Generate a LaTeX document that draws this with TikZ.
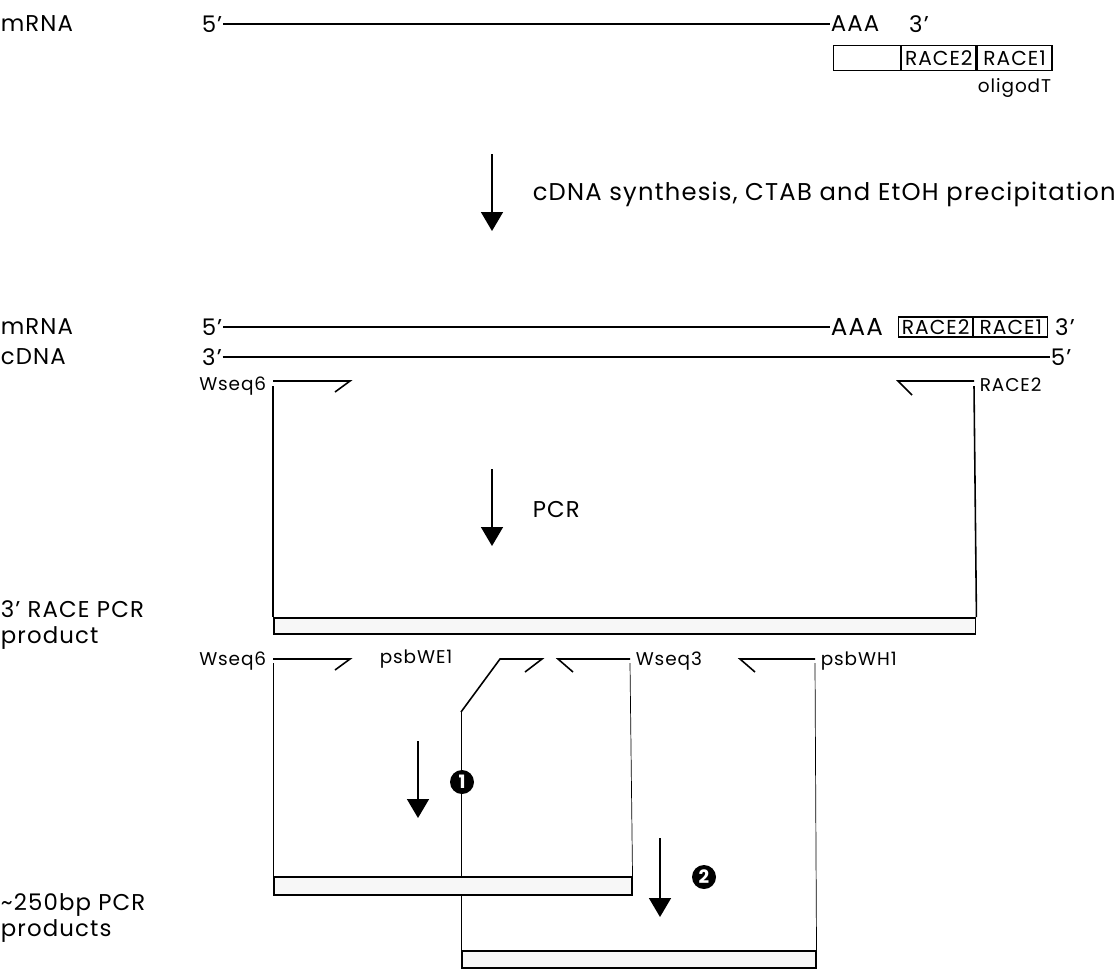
\documentclass[tikz,border=0pt]{standalone}
\usepackage{fontspec}
\setmainfont{Poppins}[LetterSpace=5]
\usetikzlibrary{arrows.meta, positioning, backgrounds}
\tikzset{
  every picture/.style={font=\fontsize{13}{15}\selectfont, line width=0.9pt},
  lbl/.style={anchor=west, inner sep=0pt, align=left},
  small/.style={font=\fontsize{10.5}{12}\selectfont, inner sep=0pt},
  tag/.style={draw, line width=0.7pt, inner sep=0pt, minimum height=#1, font=\fontsize{11.5}{12}\selectfont},
  prod/.style={draw, fill=gray!6, anchor=north west, inner sep=0pt},
  down/.style={-{Triangle[width=0.44cm,length=0.38cm]}, line width=0.9pt},
  num/.style={circle, fill=black, text=white, inner sep=0pt, minimum size=0.48cm, font=\bfseries\fontsize{10.5}{10.5}\selectfont},
}
\begin{document}
\begin{tikzpicture}[x=0.02cm, y=-0.02cm]
  \useasboundingbox (0,0) rectangle (1119,968);
  \node[lbl] (mrnaA) at (0,24) {mRNA};
  \node[inner sep=0pt] (fiveA) at (212,24) {5'};
  \node[anchor=west, inner sep=0pt] (aaaA) at (830,24) {AAA};
  \node[inner sep=0pt] (threeA) at (919,24) {3'};
  \draw (fiveA.east) -- (aaaA.west);
  \node[tag=0.5cm, minimum width=1.34cm, anchor=north west] (blank) at (833,45) {};
  \node[tag=0.5cm, minimum width=1.48cm, right=0pt of blank] (raceTwoA) {RACE2};
  \node[tag=0.5cm, minimum width=1.5cm, right=0pt of raceTwoA] (raceOneA) {RACE1};
  \node[small, below=0.12cm of raceOneA] (oligo) {oligodT};
  \coordinate (synS) at (492,154);
  \coordinate (synE) at (492,231);
  \draw[down] (synS) -- (synE);
  \node[lbl, font=\fontsize{13.8}{15}\selectfont] (synlab) at (532,194) {cDNA synthesis, CTAB and EtOH precipitation};
  \node[lbl] (mrnaB) at (0,327) {mRNA};
  \node[lbl] (cdna) at (0,357) {cDNA};
  \node[inner sep=0pt] (fiveB) at (212,327) {5'};
  \node[anchor=west, inner sep=0pt, font=\fontsize{14}{15}\selectfont] (aaaB) at (830,327) {AAA};
  \node[tag=0.4cm, minimum width=1.48cm, anchor=west] (raceTwoB) at (898,327) {RACE2};
  \node[tag=0.4cm, minimum width=1.48cm, right=0pt of raceTwoB] (raceOneB) {RACE1};
  \node[inner sep=0pt, right=0.12cm of raceOneB] (threeB) {3'};
  \draw (fiveB.east) -- (aaaB.west);
  \node[inner sep=0pt] (threeC) at (212,357) {3'};
  \node[inner sep=0pt] (fiveC) at (1061,357) {5'};
  \draw (threeC.east) -- (fiveC.west);
  \coordinate (wsixA) at (273,381);
  \coordinate (wsixAv) at (273,386);
  \draw (wsixA) -- ++(77,0) -- ++(-15,11);
  \node[small, anchor=east] (wsixAlab) at (267,386) {Wseq6};
  \coordinate (rtwo) at (974,381);
  \coordinate (rtwov) at (974,386);
  \draw (rtwo) -- ++(-76,0) -- ++(14,14);
  \node[small, anchor=west] (rtwolab) at (979,385) {RACE2};
  \coordinate (pcrS) at (492,469);
  \coordinate (pcrE) at (492,546);
  \draw[down] (pcrS) -- (pcrE);
  \node[lbl] (pcrlab) at (532,509) {PCR};
  \node[prod, minimum width=14.04cm, minimum height=0.32cm] (race) at (273,617) {};
  \draw (wsixAv) -- (race.north west);
  \draw (rtwov) -- (race.north east);
  \node[lbl] (racelab) at (0,625) {3' RACE PCR\\product};
  \coordinate (wsixB) at (273,659);
  \coordinate (wsixBv) at (273,663);
  \draw (wsixB) -- ++(77,0) -- ++(-15,11);
  \node[small, anchor=east] (wsixBlab) at (267,661) {Wseq6};
  \coordinate (weone) at (461,712);
  \draw (weone) -- (500,659) -- ++(42,0) -- ++(-17,13);
  \node[small, anchor=west] (weonelab) at (379,659) {psbWE1};
  \coordinate (wthree) at (630,659);
  \coordinate (wthreev) at (630,663);
  \draw (wthree) -- ++(-72,0) -- ++(15,13);
  \node[small, anchor=west] (wthreelab) at (635,661) {Wseq3};
  \coordinate (whone) at (815,659);
  \coordinate (whonev) at (815,663);
  \draw (whone) -- ++(-75,0) -- ++(15,13);
  \node[small, anchor=west] (whonelab) at (820,661) {psbWH1};
  \node[prod, minimum width=7.16cm, minimum height=0.36cm] (prodA) at (273,876) {};
  \node[prod, minimum width=7.08cm, minimum height=0.34cm] (prodB) at (461,950) {};
  \begin{scope}[on background layer]
    \draw (wsixBv) -- (prodA.north west);
    \draw (wthreev) -- (prodA.north east);
    \draw (weone) -- (prodB.north west);
    \draw (whonev) -- (prodB.north east);
  \end{scope}
  \coordinate (oneS) at (418,741);
  \coordinate (oneE) at (418,818);
  \draw[down] (oneS) -- (oneE);
  \node[num] (numone) at (462,782) {1};
  \coordinate (twoS) at (660,838);
  \coordinate (twoE) at (660,917);
  \draw[down] (twoS) -- (twoE);
  \node[num] (numtwo) at (704,877) {2};
  \node[lbl] (prodlab) at (0,918) {\textasciitilde 250bp PCR\\products};
\end{tikzpicture}
\end{document}
